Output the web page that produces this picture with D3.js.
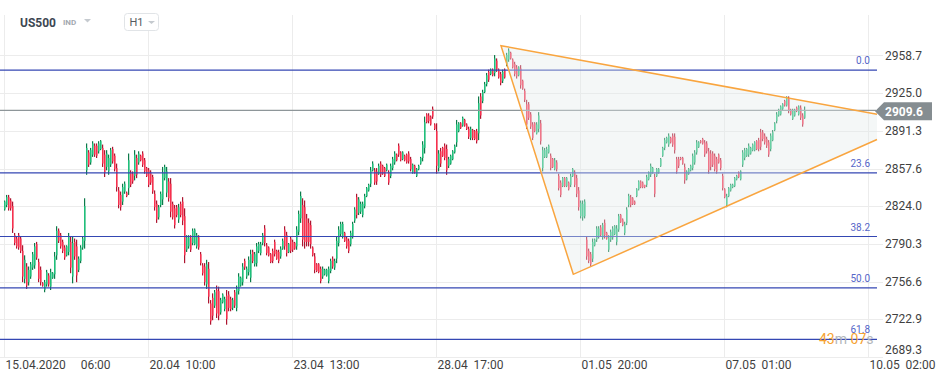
<!DOCTYPE html>
<html><head><meta charset="utf-8">
<script src="https://cdn.jsdelivr.net/npm/d3@7"></script>
<style>
html,body{margin:0;padding:0;background:#fff;}
svg{display:block;font-family:Roboto,"Noto Sans",sans-serif;}
</style></head><body>
<svg id="c" width="945" height="382"></svg>
<script>
// ---------------- DATA (US500, H1 candles) ----------------
const open=[2821,2825,2832,2829,2824,2798,2795,2798,2795,2784,
2759,2770,2756,2761,2769,2771,2790,2774,2767,2755,
2749,2754,2762,2752,2760,2763,2780,2802,2798,2792,
2787,2780,2783,2792,2761,2792,2788,2767,2775,2787,
2793,2856,2872,2863,2870,2878,2878,2873,2875,2876,
2870,2859,2855,2861,2875,2869,2858,2838,2834,2828,
2837,2836,2840,2854,2853,2851,2867,2863,2869,2871,
2865,2858,2856,2854,2850,2835,2826,2814,2825,2830,
2849,2836,2846,2844,2826,2822,2823,2812,2826,2828,
2815,2785,2788,2796,2791,2790,2788,2796,2781,2771,
2770,2754,2768,2737,2742,2735,2749,2748,2729,2738,
2732,2744,2745,2741,2733,2747,2733,2748,2753,2756,
2775,2761,2765,2760,2783,2772,2773,2784,2782,2791,
2804,2789,2787,2781,2784,2792,2784,2783,2779,2786,
2803,2798,2783,2795,2792,2791,2788,2801,2813,2825,
2823,2813,2809,2807,2787,2779,2772,2772,2768,2761,
2763,2762,2757,2766,2777,2769,2777,2791,2799,2797,
2800,2795,2793,2790,2797,2811,2832,2818,2819,2816,
2824,2833,2838,2844,2856,2856,2855,2853,2862,2860,
2858,2856,2854,2851,2858,2863,2870,2878,2872,2866,
2869,2870,2871,2866,2854,2860,2851,2857,2862,2867,
2876,2906,2905,2904,2911,2897,2891,2858,2873,2876,
2878,2875,2860,2862,2866,2872,2881,2891,2898,2896,
2901,2897,2893,2885,2892,2891,2891,2889,2922,2918,
2926,2933,2944,2942,2946,2943,2954,2946,2942,2936,
2946,2951,2955,2961,2955,2951,2948,2941,2947,2936,
2927,2915,2915,2906,2897,2898,2889,2893,2898,2858,
2868,2868,2872,2869,2866,2857,2863,2851,2845,2842,
2849,2842,2845,2843,2851,2854,2849,2838,2815,2814,
2815,2794,2784,2781,2777,2789,2794,2797,2805,2796,
2809,2800,2785,2794,2796,2799,2792,2803,2816,2812,
2800,2809,2825,2832,2831,2828,2833,2839,2846,2845,
2843,2843,2848,2852,2854,2850,2851,2854,2860,2869,
2876,2881,2879,2885,2887,2886,2866,2866,2867,2867,
2859,2848,2853,2856,2858,2863,2872,2877,2882,2884,
2881,2880,2873,2871,2871,2869,2866,2870,2865,2851,
2839,2825,2833,2838,2841,2842,2848,2854,2848,2861,
2867,2869,2870,2871,2874,2874,2882,2883,2890,2890,
2887,2884,2881,2875,2883,2892,2900,2905,2906,2911,
2918,2914,2920,2910,2902,2905,2912,2906,2912,2905,
2903];
const high=[2829,2834,2834,2831,2828,2800,2797,2800,2797,2789,
2780,2773,2770,2774,2783,2791,2792,2777,2770,2756,
2758,2767,2764,2768,2765,2783,2806,2804,2800,2794,
2789,2789,2800,2797,2797,2795,2794,2779,2789,2797,
2831,2880,2874,2876,2882,2880,2880,2882,2883,2879,
2874,2874,2870,2876,2877,2871,2862,2841,2837,2844,
2846,2837,2871,2856,2855,2874,2870,2873,2870,2873,
2867,2859,2858,2856,2852,2838,2829,2825,2837,2859,
2861,2859,2849,2849,2828,2825,2825,2826,2828,2832,
2822,2798,2798,2798,2804,2804,2800,2798,2783,2773,
2773,2776,2774,2740,2746,2749,2753,2752,2742,2746,
2743,2749,2748,2743,2742,2749,2753,2764,2761,2773,
2777,2770,2779,2785,2785,2783,2791,2792,2792,2800,
2807,2791,2788,2782,2786,2794,2785,2785,2788,2795,
2806,2801,2791,2797,2794,2792,2806,2820,2837,2831,
2829,2817,2813,2811,2788,2782,2773,2773,2770,2770,
2768,2768,2770,2777,2779,2777,2797,2806,2810,2810,
2801,2797,2795,2802,2810,2823,2835,2832,2828,2828,
2835,2841,2844,2859,2864,2858,2858,2862,2864,2861,
2859,2862,2856,2862,2868,2873,2871,2880,2873,2873,
2870,2871,2873,2868,2862,2861,2858,2861,2868,2882,
2904,2907,2907,2905,2913,2898,2898,2874,2876,2877,
2880,2879,2868,2870,2874,2879,2901,2899,2899,2904,
2902,2898,2895,2895,2893,2892,2893,2922,2925,2928,
2935,2943,2946,2947,2947,2959,2956,2947,2944,2946,
2947,2961,2965,2962,2956,2953,2950,2949,2950,2937,
2929,2919,2917,2908,2899,2899,2899,2908,2901,2877,
2876,2877,2879,2871,2867,2867,2865,2853,2847,2850,
2850,2850,2846,2853,2858,2856,2852,2841,2829,2829,
2830,2797,2786,2783,2795,2795,2806,2806,2807,2809,
2812,2801,2798,2803,2806,2807,2807,2817,2817,2813,
2810,2823,2835,2834,2832,2829,2840,2847,2847,2846,
2843,2852,2855,2862,2859,2853,2858,2858,2867,2877,
2885,2886,2889,2886,2889,2889,2868,2868,2868,2868,
2862,2856,2858,2861,2871,2874,2883,2882,2883,2885,
2883,2882,2876,2874,2873,2871,2868,2871,2867,2853,
2840,2835,2841,2844,2844,2850,2852,2855,2856,2874,
2876,2876,2880,2877,2880,2882,2883,2885,2893,2892,
2889,2886,2883,2889,2892,2899,2908,2911,2914,2916,
2919,2922,2922,2911,2911,2911,2913,2914,2914,2907,
2913];
const low=[2820,2823,2820,2820,2800,2789,2786,2785,2782,2756,
2755,2750,2753,2759,2767,2768,2776,2756,2753,2752,
2747,2752,2752,2749,2759,2759,2776,2791,2786,2782,
2776,2779,2780,2764,2755,2776,2756,2765,2773,2785,
2786,2852,2859,2861,2868,2868,2867,2871,2874,2859,
2850,2856,2852,2859,2862,2855,2837,2822,2820,2825,
2835,2832,2834,2841,2844,2847,2849,2861,2864,2859,
2853,2850,2841,2843,2835,2820,2809,2812,2823,2825,
2847,2832,2828,2814,2812,2804,2814,2809,2814,2807,
2773,2783,2786,2783,2789,2789,2786,2785,2771,2762,
2753,2750,2737,2718,2722,2733,2724,2722,2727,2737,
2730,2718,2730,2730,2731,2733,2730,2745,2752,2753,
2767,2759,2762,2756,2773,2770,2770,2782,2780,2789,
2788,2780,2779,2773,2773,2779,2776,2773,2777,2785,
2785,2779,2782,2782,2783,2785,2785,2798,2809,2788,
2786,2788,2788,2786,2779,2764,2765,2764,2755,2759,
2762,2761,2755,2764,2768,2767,2773,2788,2797,2795,
2792,2786,2782,2788,2795,2809,2813,2816,2817,2814,
2822,2832,2837,2841,2855,2843,2843,2852,2850,2852,
2850,2855,2843,2849,2856,2861,2864,2868,2864,2865,
2864,2862,2862,2855,2853,2853,2850,2856,2861,2864,
2871,2898,2898,2896,2902,2892,2853,2855,2859,2868,
2865,2852,2858,2861,2865,2871,2877,2890,2893,2895,
2895,2892,2884,2883,2883,2883,2880,2883,2902,2916,
2925,2931,2935,2941,2940,2940,2944,2938,2932,2934,
2938,2949,2953,2955,2947,2940,2938,2940,2929,2928,
2917,2893,2901,2893,2883,2890,2888,2890,2879,2855,
2867,2867,2871,2856,2858,2856,2855,2838,2832,2841,
2841,2841,2838,2841,2850,2841,2832,2820,2813,2811,
2813,2776,2773,2770,2774,2788,2792,2795,2797,2794,
2795,2794,2783,2792,2794,2798,2789,2801,2809,2806,
2798,2807,2823,2823,2825,2825,2832,2838,2840,2840,
2840,2841,2847,2850,2853,2832,2850,2853,2859,2868,
2874,2880,2877,2880,2877,2871,2853,2858,2865,2861,
2844,2847,2852,2855,2856,2861,2870,2876,2880,2879,
2868,2871,2853,2856,2859,2855,2853,2862,2856,2838,
2831,2823,2832,2837,2840,2841,2847,2849,2847,2859,
2865,2868,2868,2870,2873,2873,2874,2873,2874,2882,
2879,2876,2868,2873,2882,2891,2898,2904,2905,2910,
2913,2913,2907,2905,2901,2904,2908,2905,2901,2895,
2902];
const close=[2828,2832,2822,2822,2804,2791,2788,2787,2784,2761,
2776,2753,2767,2772,2781,2788,2778,2759,2756,2753,
2756,2765,2754,2765,2764,2779,2802,2793,2788,2784,
2778,2788,2797,2769,2791,2779,2762,2777,2787,2795,
2824,2876,2861,2874,2880,2870,2869,2880,2882,2862,
2854,2871,2867,2874,2864,2857,2841,2825,2823,2841,
2844,2833,2865,2843,2846,2870,2852,2871,2865,2861,
2855,2851,2843,2845,2837,2823,2812,2823,2835,2854,
2859,2855,2831,2819,2814,2807,2816,2823,2816,2811,
2780,2796,2796,2785,2802,2803,2798,2787,2773,2764,
2756,2772,2743,2721,2726,2747,2728,2726,2740,2745,
2741,2723,2733,2732,2740,2735,2750,2761,2760,2770,
2769,2768,2776,2781,2775,2781,2788,2790,2790,2798,
2791,2782,2780,2774,2775,2781,2777,2775,2786,2793,
2788,2782,2790,2784,2785,2786,2803,2817,2833,2794,
2792,2792,2792,2790,2780,2767,2766,2765,2757,2768,
2767,2767,2768,2775,2770,2775,2793,2803,2808,2808,
2793,2788,2784,2800,2808,2821,2816,2830,2826,2826,
2833,2840,2843,2856,2862,2845,2846,2860,2852,2853,
2851,2861,2845,2860,2866,2871,2865,2870,2865,2872,
2865,2863,2864,2857,2861,2854,2857,2860,2867,2879,
2899,2899,2900,2897,2904,2893,2860,2871,2862,2869,
2867,2856,2866,2869,2873,2878,2897,2898,2894,2903,
2896,2893,2886,2893,2885,2884,2882,2916,2905,2926,
2933,2941,2937,2946,2941,2956,2946,2939,2934,2944,
2939,2959,2963,2956,2948,2942,2940,2948,2932,2929,
2919,2897,2903,2895,2885,2891,2897,2905,2882,2874,
2874,2875,2878,2858,2859,2865,2857,2840,2834,2849,
2842,2849,2839,2851,2857,2843,2835,2823,2827,2826,
2828,2779,2775,2772,2792,2794,2804,2804,2798,2807,
2798,2795,2796,2801,2804,2806,2804,2815,2810,2807,
2808,2821,2833,2825,2826,2826,2839,2846,2841,2841,
2841,2850,2854,2860,2858,2835,2857,2857,2866,2876,
2883,2885,2887,2881,2879,2874,2855,2860,2866,2862,
2847,2855,2857,2860,2869,2872,2881,2881,2881,2880,
2870,2873,2856,2859,2861,2857,2855,2863,2858,2840,
2832,2833,2840,2843,2843,2849,2851,2850,2855,2872,
2874,2875,2878,2876,2879,2881,2875,2875,2877,2884,
2881,2878,2870,2887,2890,2898,2906,2910,2913,2915,
2914,2921,2909,2906,2909,2910,2909,2913,2903,2897,
2909.6];

const priceTicks=[2689.3,2722.9,2756.6,2790.3,2824.0,2857.6,2891.3,2925.0,2958.7];
const timeTickIndex=[0,72,144,216,288,360,432];
const timeTickLabels=["15.04.2020     06:00","20.04  10:00","23.04  13:00","28.04  17:00","01.05  20:00","07.05  01:00","10.05  02:00"];
const fibLevels=[0,23.6,38.2,50,61.8];
const fibLabels=["0.0","23.6","38.2","50.0","61.8"];
const fibHigh=2945.6, fibLow=2556.1;
const lastPrice=2909.6;
const triIndex=[248.5,436.5,436.5,284.65];
const triPrice=[2967.4,2906.1,2883.5,2763.0];
const symbol="US500", symbolType="IND", interval="H1";
const timerParts=[["43","o"],["m","g"],[" ","g"],["07","o"],["s","g"]];

// ---------------- DRAW ----------------
const svg=d3.select("#c");
const x=d3.scaleLinear().domain([0,432]).range([4,868]);
const y=d3.scaleLinear().domain([2689.3,2958.7]).range([356.8,55.4]);
const plotRight=877, axisRight=883;

const grid=svg.append("g");
grid.selectAll("line.h").data(priceTicks).join("line").attr("class","h")
  .attr("x1",0).attr("x2",axisRight).attr("y1",d=>Math.round(y(d))+0.5).attr("y2",d=>Math.round(y(d))+0.5)
  .attr("stroke","#ececec").attr("stroke-width",1);
grid.selectAll("line.v").data(timeTickIndex).join("line").attr("class","v")
  .attr("x1",d=>Math.round(x(d))+0.5).attr("x2",d=>Math.round(x(d))+0.5).attr("y1",15).attr("y2",357)
  .attr("stroke","#ececec").attr("stroke-width",1);

// candles
const data=open.map((o,i)=>({i,o,h:high[i],l:low[i],c:close[i]}));
const upW="#0d7a4a",upB="#1fc07b",dnW="#ad1530",dnB="#f8304e";
const gw=svg.append("g"),gb=svg.append("g");
gw.selectAll("rect").data(data).join("rect")
  .attr("x",d=>x(d.i)).attr("width",1.2)
  .attr("y",d=>y(d.h)).attr("height",d=>Math.max(1,y(d.l)-y(d.h)))
  .attr("fill",d=>d.c>=d.o?upW:dnW);
gb.selectAll("rect").data(data).join("rect")
  .attr("x",d=>x(d.i)).attr("width",1.5)
  .attr("y",d=>y(Math.max(d.o,d.c))).attr("height",d=>Math.max(1,Math.abs(y(d.o)-y(d.c))))
  .attr("fill",d=>d.c>=d.o?upB:dnB);

// fib lines
const fibPrice=l=>fibHigh-(fibHigh-fibLow)*l/100;
const fg=svg.append("g");
fg.selectAll("line").data(fibLevels).join("line")
  .attr("x1",0).attr("x2",plotRight).attr("y1",d=>y(fibPrice(d))).attr("y2",d=>y(fibPrice(d)))
  .attr("stroke","#3447b3").attr("stroke-width",1.2);

// last price line
svg.append("line").attr("x1",0).attr("x2",876).attr("y1",y(lastPrice)).attr("y2",y(lastPrice))
  .attr("stroke","#8e9699").attr("stroke-width",1.1);

// triangle drawing
const triPts=triIndex.map((t,k)=>[x(t),y(triPrice[k])]);
svg.append("path").attr("d","M"+triPts.map(p=>p.join(",")).join("L")+"Z")
  .attr("fill","#e2eaea").attr("fill-opacity",0.38).attr("stroke","none");
const tl=d3.line();
svg.append("path").attr("d",tl([triPts[1],triPts[0],triPts[3],triPts[2]]))
  .attr("fill","none").attr("stroke","#f9a53f").attr("stroke-width",1.5);

// fib labels
fg.selectAll("text").data(fibLevels).join("text")
  .attr("x",870).attr("y",d=>y(fibPrice(d))-6).attr("text-anchor","end")
  .attr("font-size",10).attr("fill","#5666c8").text((d,i)=>fibLabels[i]);

// right axis
const ra=svg.append("g").attr("transform",`translate(${axisRight},0)`)
  .call(d3.axisRight(y).tickValues(priceTicks).tickFormat(d3.format(".1f")).tickSize(0).tickPadding(2));
ra.select(".domain").remove();
ra.selectAll("text").attr("font-size",12).attr("font-family","Roboto").attr("fill","#3f3f3f")
  .attr("dy","0.35em");
ra.selectAll(".tick").attr("transform",d=>`translate(0,${Math.min(y(d),350)})`);

// bottom axis
const ba=svg.append("g").attr("transform","translate(0,357)")
  .call(d3.axisBottom(x).tickValues(timeTickIndex).tickFormat((d,i)=>timeTickLabels[i]).tickSize(0).tickPadding(0));
ba.select(".domain").remove();
ba.selectAll("text").attr("font-size",12).attr("font-family","Roboto").attr("fill","#3f3f3f")
  .attr("text-anchor","start").attr("x",1).attr("y",12).attr("dy",0).style("white-space","pre");

// price tag
const ty=y(lastPrice)+1;
svg.append("path").attr("d",`M875,${ty} L884,${ty-9} L932,${ty-9} L932,${ty+9} L884,${ty+9} Z`).attr("fill","#858d91");
svg.append("text").attr("x",885).attr("y",ty+4.3).attr("font-size",12).attr("font-weight","bold")
  .attr("fill","#fff").text(d3.format(".1f")(lastPrice));

// timer
const tt=svg.append("text").attr("x",819).attr("y",344).attr("font-size",14).style("white-space","pre");
tt.selectAll("tspan").data(timerParts).join("tspan").attr("fill",d=>d[1]==="o"?"#f6a332":"#b3b7bb").text(d=>d[0]);

// header
svg.append("text").attr("x",20).attr("y",27).attr("font-size",12).attr("font-weight","bold").attr("fill","#3d4752").text(symbol);
svg.append("text").attr("x",63).attr("y",25).attr("font-size",8).attr("font-weight","bold").attr("fill","#a3a9b0").text(symbolType);
svg.append("path").attr("d","M84,19L91,19L87.5,22.5Z").attr("fill","#c5cacf");
svg.append("rect").attr("x",124.5).attr("y",13.5).attr("width",34).attr("height",17).attr("rx",3)
  .attr("fill","#fff").attr("stroke","#e1e4e7");
svg.append("text").attr("x",129.5).attr("y",26).attr("font-size",11).attr("fill","#555b61").text(interval);
svg.append("path").attr("d","M148,21L155,21L151.5,24Z").attr("fill","#c5cacf");
</script>
</body></html>
